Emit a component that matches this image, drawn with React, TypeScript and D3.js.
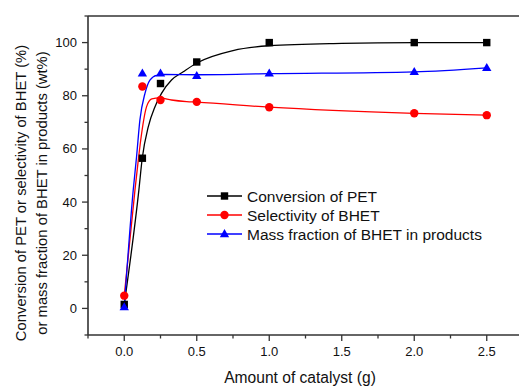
import React from "react";
import * as d3 from "d3";

// Measured data (Amount of catalyst, g)
const catalyst = [0, 0.125, 0.25, 0.5, 1.0, 2.0, 2.5];
const conversionPET = [1.5, 56.5, 84.6, 92.7, 100, 100, 100];
const selectivityBHET = [4.8, 83.5, 78.4, 77.7, 75.7, 73.4, 72.7];
const massFractionBHET = [0.5, 88.4, 88.4, 87.5, 88.4, 89.0, 90.5];

// Fitted curves
const fitConvX = [0, 0.101, 0.124, 0.166, 0.212, 0.257, 0.326, 0.407, 0.5, 0.75, 1.0, 1.5, 2.0, 2.5];
const fitConvY = [1.5, 44.6, 56.5, 68.4, 75.9, 80.9, 85.9, 89.0, 92.3, 97.0, 98.8, 99.7, 100, 100];
const fitSelX = [0, 0.074, 0.097, 0.12, 0.154, 0.19, 0.246, 0.326, 0.43, 0.5, 1.0, 2.0, 2.5];
const fitSelY = [4.8, 44.6, 55.9, 65.9, 75.9, 78.8, 79.2, 78.4, 77.8, 77.6, 75.7, 73.4, 72.7];
const fitMassX = [0, 0.062, 0.085, 0.108, 0.143, 0.177, 0.223, 0.28, 0.5, 1.0, 2.0, 2.5];
const fitMassY = [0.5, 44.6, 57.1, 70.9, 80.9, 85.9, 87.7, 88.0, 87.9, 88.3, 89.0, 90.5];

const xTicks = [0, 0.5, 1.0, 1.5, 2.0, 2.5];
const xMinorTicks = [-0.25, 0.25, 0.75, 1.25, 1.75, 2.25, 2.75];
const yTicks = [0, 20, 40, 60, 80, 100];
const yMinorTicks = [-10, 10, 30, 50, 70, 90, 110];

const seriesNames = ["Conversion of PET", "Selectivity of BHET", "Mass fraction of BHET in products"];
const seriesColors = ["#000000", "#ff0000", "#0000ff"];

const W = 519;
const H = 386;
const left = 88;
const right = 523;
const top = 16;
const bottom = 335;
const FONT = "'Liberation Sans', Arial, Helvetica, sans-serif";
const AXIS = "#333333";

export default function App() {
  const x = d3.scaleLinear().domain([-0.25, 2.75]).range([left, right]);
  const y = d3.scaleLinear().domain([-10, 110]).range([bottom, top]);

  const line = d3
    .line<[number, number]>()
    .x((d) => x(d[0]))
    .y((d) => y(d[1]))
    .curve(d3.curveMonotoneX);

  const fits = [
    fitConvX.map((v, i) => [v, fitConvY[i]] as [number, number]),
    fitSelX.map((v, i) => [v, fitSelY[i]] as [number, number]),
    fitMassX.map((v, i) => [v, fitMassY[i]] as [number, number]),
  ];
  const values = [conversionPET, selectivityBHET, massFractionBHET];

  const marker = (k: number, cx: number, cy: number, key: string) => {
    const c = seriesColors[k];
    if (k === 0) return <rect key={key} x={cx - 3.7} y={cy - 3.7} width={7.4} height={7.4} fill={c} />;
    if (k === 1) return <circle key={key} cx={cx} cy={cy} r={4.2} fill={c} />;
    const tri = d3.symbol().type(d3.symbolTriangle).size(38)();
    return <path key={key} d={tri || ""} transform={`translate(${cx},${cy + 0.5})`} fill={c} />;
  };

  const legendX1 = 207;
  const legendX2 = 242;
  const legendY = [196, 215, 234];

  return (
    <svg
      width={W}
      height={H}
      style={{ position: "absolute", left: 0, top: 0, background: "#fff" }}
      fontFamily={FONT}
    >
      <defs>
        <clipPath id="plotclip">
          <rect x={left} y={top} width={right - left} height={bottom - top} />
        </clipPath>
      </defs>
      <rect x={0} y={0} width={W} height={H} fill="#fff" />

      {/* fitted curves */}
      <g clipPath="url(#plotclip)">
        {fits.map((f, k) => (
          <path key={k} d={line(f) || ""} fill="none" stroke={seriesColors[k]} strokeWidth={1.3} />
        ))}
      </g>

      {/* markers */}
      {values.map((vals, k) => (
        <g key={k}>{vals.map((v, i) => marker(k, x(catalyst[i]), y(v), `${k}-${i}`))}</g>
      ))}

      {/* frame */}
      <line x1={left} x2={left} y1={top} y2={bottom} stroke={AXIS} strokeWidth={1.6} />
      <line x1={left} x2={W} y1={bottom} y2={bottom} stroke={AXIS} strokeWidth={1.6} />
      <line x1={left} x2={W} y1={top} y2={top} stroke={AXIS} strokeWidth={1.6} />

      {/* y ticks */}
      {yTicks.map((t) => (
        <g key={`y${t}`}>
          <line x1={left - 6} x2={left} y1={y(t)} y2={y(t)} stroke={AXIS} strokeWidth={1.3} />
          <text x={left - 11} y={y(t)} dy="0.35em" textAnchor="end" fontSize={13} fill="#111">
            {t}
          </text>
        </g>
      ))}
      {yMinorTicks.map((t) => (
        <line key={`ym${t}`} x1={left - 3.5} x2={left} y1={y(t)} y2={y(t)} stroke={AXIS} strokeWidth={1.3} />
      ))}

      {/* x ticks */}
      {xTicks.map((t) => (
        <g key={`x${t}`}>
          <line x1={x(t)} x2={x(t)} y1={bottom} y2={bottom + 6} stroke={AXIS} strokeWidth={1.3} />
          <text x={x(t)} y={bottom + 21} textAnchor="middle" fontSize={13} fill="#111">
            {d3.format(".1f")(t)}
          </text>
        </g>
      ))}
      {xMinorTicks.map((t) => (
        <line key={`xm${t}`} x1={x(t)} x2={x(t)} y1={bottom} y2={bottom + 3.5} stroke={AXIS} strokeWidth={1.3} />
      ))}

      {/* axis titles */}
      <text x={300} y={383} textAnchor="middle" fontSize={15.6} fill="#111">
        Amount of catalyst (g)
      </text>
      <text transform="translate(26,193) rotate(-90)" textAnchor="middle" fontSize={14.8} fill="#111">
        Conversion of PET or selectivity of BHET (%)
      </text>
      <text transform="translate(47,193) rotate(-90)" textAnchor="middle" fontSize={14.8} fill="#111">
        or mass fraction of BHET in products (wt%)
      </text>

      {/* legend */}
      {seriesNames.map((name, k) => (
        <g key={name}>
          <line x1={legendX1} x2={legendX2} y1={legendY[k]} y2={legendY[k]} stroke={seriesColors[k]} strokeWidth={1.3} />
          {marker(k, (legendX1 + legendX2) / 2, legendY[k], `leg${k}`)}
          <text x={legendX2 + 5} y={legendY[k]} dy="0.36em" fontSize={15.5} fill="#111">
            {name}
          </text>
        </g>
      ))}
    </svg>
  );
}
